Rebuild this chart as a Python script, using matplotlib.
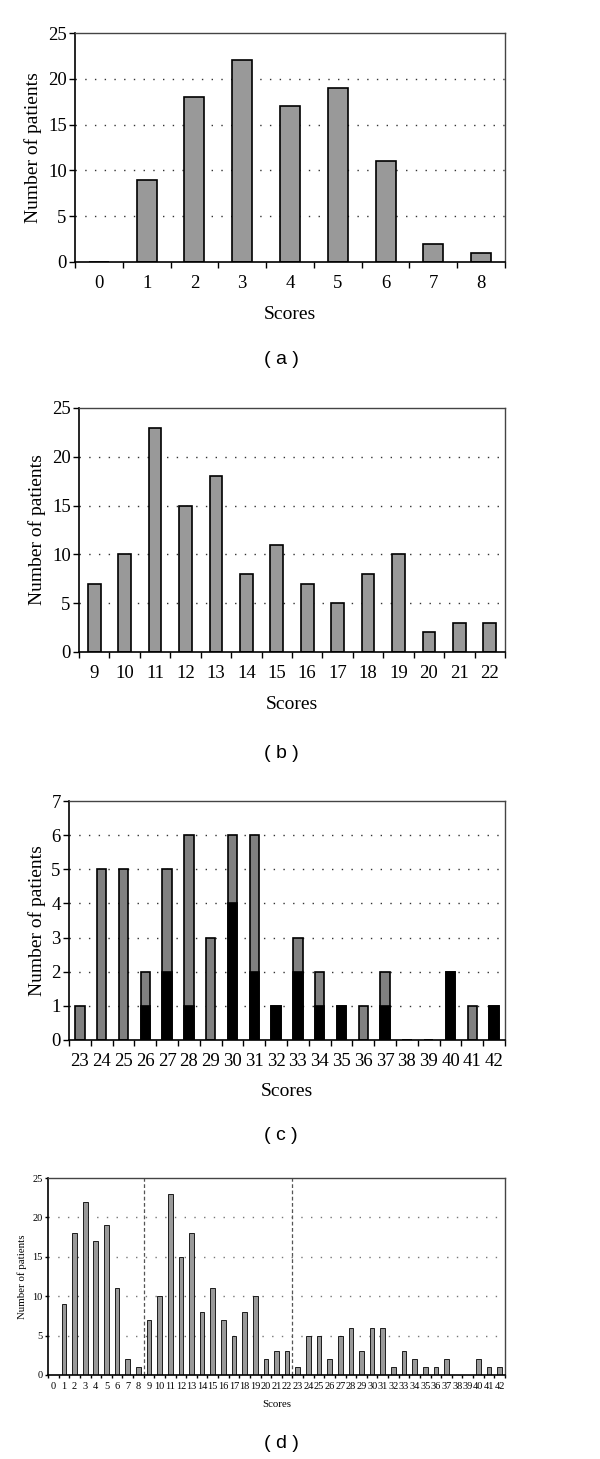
import matplotlib
matplotlib.use('Agg')

import numpy as np
import matplotlib.pyplot as plt

# (a) scores 0-8
scores_a = [0, 1, 2, 3, 4, 5, 6, 7, 8]
patients_a = [0, 9, 18, 22, 17, 19, 11, 2, 1]

# (b) scores 9-22
scores_b = [9, 10, 11, 12, 13, 14, 15, 16, 17, 18, 19, 20, 21, 22]
patients_b = [7, 10, 23, 15, 18, 8, 11, 7, 5, 8, 10, 2, 3, 3]

# (c) scores 23-42, total and the black part
scores_c = list(range(23, 43))
patients_c = [1, 5, 5, 2, 5, 6, 3, 6, 6, 1, 3, 2, 1, 1, 2, 0, 0, 2, 1, 1]
black_c = [0, 0, 0, 1, 2, 1, 0, 4, 2, 1, 2, 1, 1, 0, 1, 0, 0, 2, 0, 1]

# (d) all scores together
scores_d = scores_a + scores_b + scores_c
patients_d = patients_a + patients_b + patients_c

plt.rcParams['font.family'] = ['Liberation Serif', 'DejaVu Serif']

W, H = 600, 1459
fig = plt.figure(figsize=(W / 100, H / 100), dpi=100)


def make_axes(left, right, top, bottom):
    return fig.add_axes([left / W, 1 - bottom / H, (right - left) / W, (bottom - top) / H])


def style(ax, scores, ymax, step, fs, lab_fs, grid_color):
    ax.set_xlim(scores[0] - 0.5, scores[-1] + 0.5)
    ax.set_ylim(0, ymax)
    ax.set_yticks(np.arange(0, ymax + 0.1, step))
    ax.set_xticks(scores)
    ax.set_xticklabels([str(s) for s in scores], fontsize=fs)
    ax.set_xticks(np.arange(scores[0] - 0.5, scores[-1] + 0.6, 1), minor=True)
    ax.tick_params(axis='x', which='major', length=0, pad=fs * 0.7)
    ax.tick_params(axis='x', which='minor', length=4, width=1, direction='out')
    ax.tick_params(axis='y', length=4, width=1, direction='out', labelsize=fs, pad=2)
    for t in ax.get_yticks()[1:-1]:
        ax.axhline(t, color=grid_color, linestyle=(0, (1, 6)), linewidth=1, zorder=0)
    for s in ['top', 'right']:
        ax.spines[s].set_color('#444444')
        ax.spines[s].set_linewidth(1)
    for s in ['left', 'bottom']:
        ax.spines[s].set_linewidth(1.2)
    ax.set_ylabel('Number of patients', fontsize=lab_fs)
    ax.set_xlabel('Scores', fontsize=lab_fs)


def panel_letter(y, letter):
    fig.text(281 / W, 1 - y / H, '( %s )' % letter, ha='center', va='center',
             fontsize=14, family='Liberation Sans')


# (a)
ax = make_axes(75, 505, 33, 262)
ax.bar(scores_a, patients_a, width=0.42, color='#999999', edgecolor='black', linewidth=1.2, zorder=2)
style(ax, scores_a, 25, 5, 13.5, 14, '#333333')
ax.xaxis.labelpad = 10
panel_letter(360, 'a')

# (b)
ax = make_axes(79, 505, 408, 652)
ax.bar(scores_b, patients_b, width=0.42, color='#999999', edgecolor='black', linewidth=1.2, zorder=2)
style(ax, scores_b, 25, 5, 13.5, 14, '#333333')
ax.xaxis.labelpad = 10
panel_letter(753, 'b')

# (c)
ax = make_axes(69, 505, 801, 1040)
ax.bar(scores_c, patients_c, width=0.43, color='#808080', edgecolor='black', linewidth=1.2, zorder=2)
ax.bar(scores_c, black_c, width=0.43, color='black', edgecolor='black', linewidth=1.2, zorder=3)
style(ax, scores_c, 7, 1, 13.5, 14, '#333333')
ax.xaxis.labelpad = 9
panel_letter(1136, 'c')

# (d)
ax = make_axes(48, 505, 1178, 1375)
ax.bar(scores_d, patients_d, width=0.44, color='#999999', edgecolor='black', linewidth=0.6, zorder=2)
style(ax, scores_d, 25, 5, 7.5, 7.8, '#777777')
ax.tick_params(axis='x', which='minor', length=2)
ax.tick_params(axis='y', length=2)
ax.xaxis.labelpad = 6
for xv in [8.5, 22.5]:
    ax.axvline(xv, color='#555555', linestyle=(0, (3, 2)), linewidth=0.9, zorder=1)
panel_letter(1443, 'd')

fig.savefig('out.png', dpi=100)
